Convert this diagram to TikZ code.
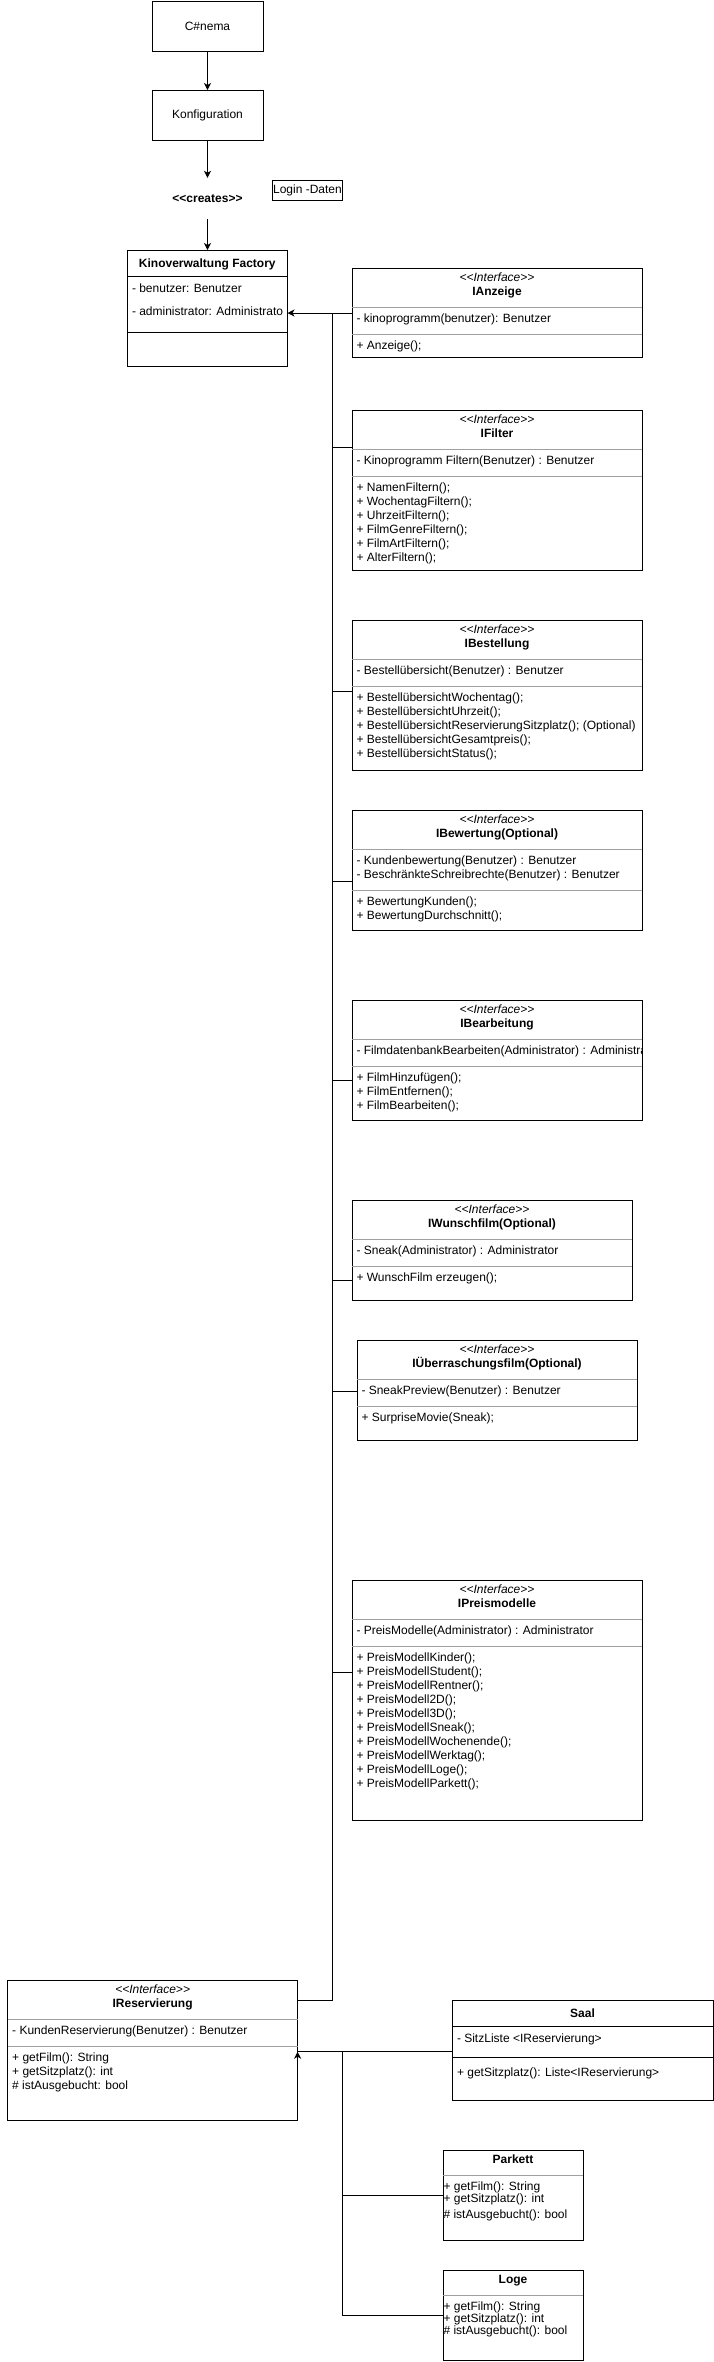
\documentclass[tikz,border=0pt]{standalone}
\usepackage{fontspec}
\setmainfont{Liberation Sans}
\usetikzlibrary{arrows.meta,calc}
\definecolor{sepgray}{HTML}{A0A0A0}
\newcommand\fs{\fontsize{12}{14}\selectfont}
\newcommand\ltlt{<\kern0pt<}
\newcommand\gtgt{>\kern0pt>}
\tikzset{
  box/.style={draw, line width=1pt, anchor=north west, inner sep=0pt, outer sep=0pt, font=\fs},
  txt/.style={inner sep=0pt, outer sep=0pt, font=\fs},
  row/.style={txt, anchor=mid west},
  ctr/.style={txt, anchor=mid},
  sepline/.style={draw=sepgray, line width=1pt},
  blackline/.style={draw=black, line width=1pt},
  conn/.style={draw, line width=1pt},
  arr/.style={conn, -{Stealth[length=7pt,width=7pt,inset=2pt]}},
}
\newcommand\umlrows[4]{%
  \foreach \rr [count=\i] in {#4} {\node[row] (#1-\i) at ({#2},{#3+14*(\i-1)}) {\rr};}}
% name, x, y, w, h, title, nattr, attrs, methods
\newcommand\umlIface[9]{%
  \node[box, minimum width=#4pt, minimum height=#5pt] (#1) at (#2,#3) {};
  \node[ctr, font=\fs\itshape] (#1-st) at ({#2+#4/2},{#3+11}) {\ltlt Interface\gtgt};
  \node[ctr, font=\fs\bfseries] (#1-t) at ({#2+#4/2},{#3+25}) {#6};
  \draw[sepline] ({#2},{#3+39}) -- ({#2+#4},{#3+39});
  \draw[sepline] ({#2},{#3+52+14*#7}) -- ({#2+#4},{#3+52+14*#7});
  \begin{scope}
    \clip ({#2},{#3}) rectangle ({#2+#4},{#3+#5});
    \umlrows{#1-a}{#2+4.5}{#3+52}{#8}
    \umlrows{#1-m}{#2+4.5}{#3+65+14*#7}{#9}
  \end{scope}
}
\begin{document}
\begin{tikzpicture}[x=1pt,y=-1pt]
\useasboundingbox[fill=white] (0,0) rectangle (713,2362);

% top chain
\node[box, minimum width=111pt, minimum height=50pt] (cinema) at (152,1) {C\#nema};
\node[box, minimum width=111pt, minimum height=50pt] (konfig) at (152,90) {Konfiguration};
\node[ctr, font=\fs\bfseries, minimum height=41pt] (creates) at (207.5,199.5) {\ltlt creates\gtgt};
\node[box, minimum width=70pt, minimum height=20pt] (login) at (272.5,180) {Login -Daten};

% factory
\node[box, minimum width=160.5pt, minimum height=116pt] (factory) at (127,250) {};
\node[ctr, font=\fs\bfseries] (factory-t) at (207.3,265) {Kinoverwaltung Factory};
\draw[blackline] (127,276) -- (287.5,276);
\node[row] (factory-a1) at (132,290) {- benutzer: Benutzer};
\node[row] (factory-a2) at (132,313) {- administrator: Administrato};
\draw[blackline] (127,332) -- (287.5,332);

\draw[arr] (cinema) -- (konfig);
\draw[arr] (konfig) -- (creates);
\draw[arr] (creates.south) -- (creates.south |- factory.north);

% interfaces
\umlIface{ianz}{352}{268}{290}{89}{IAnzeige}{1}{- kinoprogramm(benutzer): Benutzer}{+ Anzeige();}
\umlIface{ifil}{352}{410}{290}{160}{IFilter}{1}{- Kinoprogramm Filtern(Benutzer) : Benutzer}{+ NamenFiltern();, + WochentagFiltern();, + UhrzeitFiltern();, + FilmGenreFiltern();, + FilmArtFiltern();, + AlterFiltern();}
\umlIface{ibes}{352}{620}{290}{150}{IBestellung}{1}{- Bestellübersicht(Benutzer) : Benutzer}{+ BestellübersichtWochentag();, + BestellübersichtUhrzeit();, + BestellübersichtReservierungSitzplatz(); (Optional), + BestellübersichtGesamtpreis();, + BestellübersichtStatus();}
\umlIface{ibew}{352}{810}{290}{120}{IBewertung(Optional)}{2}{- Kundenbewertung(Benutzer) : Benutzer, - BeschränkteSchreibrechte(Benutzer) : Benutzer}{+ BewertungKunden();, + BewertungDurchschnitt();}
\umlIface{ibea}{352}{1000}{290}{120}{IBearbeitung}{1}{- FilmdatenbankBearbeiten(Administrator) : Administrator}{+ FilmHinzufügen();, + FilmEntfernen();, + FilmBearbeiten();}
\umlIface{iwun}{352}{1200}{280}{100}{IWunschfilm(Optional)}{1}{- Sneak(Administrator) : Administrator}{+ WunschFilm erzeugen();}
\umlIface{iueb}{357}{1340}{280}{100}{IÜberraschungsfilm(Optional)}{1}{- SneakPreview(Benutzer) : Benutzer}{+ SurpriseMovie(Sneak);}
\umlIface{ipre}{352}{1580}{290}{240}{IPreismodelle}{1}{- PreisModelle(Administrator) : Administrator}{+ PreisModellKinder();, + PreisModellStudent();, + PreisModellRentner();, + PreisModell2D();, + PreisModell3D();, + PreisModellSneak();, + PreisModellWochenende();, + PreisModellWerktag();, + PreisModellLoge();, + PreisModellParkett();}
\umlIface{ires}{7.7}{1980}{289.9}{140}{IReservierung}{1}{- KundenReservierung(Benutzer) : Benutzer}{+ getFilm(): String, + getSitzplatz(): int, \# istAusgebucht: bool}

% connector ports
\coordinate (facIn) at (287.5,313);
\coordinate (busTop) at (332,313);
\coordinate (pAnz) at (352,313);
\coordinate (pFil) at (352,447);
\coordinate (pBes) at (352,691);
\coordinate (pBew) at (352,881);
\coordinate (pBea) at (352,1080);
\coordinate (pWun) at (352,1280);
\coordinate (pUeb) at (357,1391);
\coordinate (pPre) at (352,1672);
\coordinate (pRes) at (297.6,2000);

\draw[arr] (pAnz) -- (facIn);
\draw[conn] (pRes) -| (busTop);
\foreach \p in {pFil,pBes,pBew,pBea,pWun,pUeb,pPre}
  \draw[conn] (\p) -- (\p -| busTop);

% Saal
\node[box, minimum width=261pt, minimum height=100pt] (saal) at (452,2000) {};
\node[ctr, font=\fs\bfseries] (saal-t) at (582.5,2015) {Saal};
\draw[blackline] (452,2026) -- (713,2026);
\node[row] (saal-a1) at (457,2040) {- SitzListe <IReservierung>};
\draw[blackline] (452,2057) -- (713,2057);
\node[row] (saal-m1) at (457,2074) {+ getSitzplatz(): Liste<IReservierung>};

% Parkett
\node[box, minimum width=140pt, minimum height=90pt] (parkett) at (443,2150) {};
\node[ctr, font=\fs\bfseries] (parkett-t) at (513,2161) {Parkett};
\draw[sepline] (443,2175) -- (583,2175);
\node[row] (parkett-m1) at (443.5,2188) {+ getFilm(): String};
\node[row] (parkett-m2) at (443.5,2200) {+ getSitzplatz(): int};
\node[row] (parkett-m3) at (443.5,2216) {\# istAusgebucht(): bool};

% Loge
\node[box, minimum width=140pt, minimum height=90pt] (loge) at (443,2270) {};
\node[ctr, font=\fs\bfseries] (loge-t) at (513,2281) {Loge};
\draw[sepline] (443,2295) -- (583,2295);
\node[row] (loge-m1) at (443.5,2308) {+ getFilm(): String};
\node[row] (loge-m2) at (443.5,2320) {+ getSitzplatz(): int};
\node[row] (loge-m3) at (443.5,2332) {\# istAusgebucht(): bool};

% bottom connectors
\coordinate (resIn) at (297.6,2051.7);
\coordinate (pSaal) at (452,2051.7);
\coordinate (jn) at (342,2051.7);
\coordinate (pPar) at (443,2195);
\coordinate (pLog) at (443,2315);
\draw[conn] (pSaal) -- (resIn);
\draw[arr] ([yshift=-7pt]resIn) -- (resIn);
\draw[conn] (pPar) -| (jn);
\draw[conn] (pLog) -| (jn);
\end{tikzpicture}
\end{document}
